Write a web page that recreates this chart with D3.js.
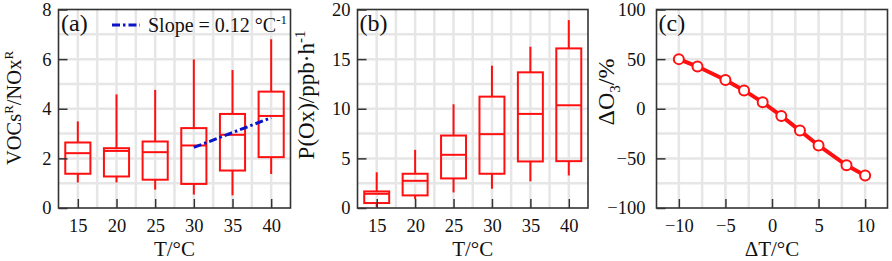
<!DOCTYPE html>
<html><head><meta charset="utf-8">
<script src="https://cdn.jsdelivr.net/npm/d3@7"></script>
<style>body{margin:0;background:#fff}svg{display:block}text{font-family:"Liberation Serif","Times New Roman",serif;fill:#111}</style>
</head><body>
<svg id="chart" width="892" height="261"></svg>
<script>
// ---- data ----
const temps = ["15","20","25","30","35","40"];
// panel (a) VOCs^R/NOx^R box stats
const aLow  = [1.03, 1.03, 0.74, 0.54, 0.51, 1.37];
const aQ1   = [1.38, 1.27, 1.14, 0.97, 1.51, 2.05];
const aMed  = [2.21, 2.30, 2.25, 2.52, 2.95, 3.71];
const aQ3   = [2.64, 2.41, 2.68, 3.22, 3.79, 4.69];
const aHigh = [3.49, 4.58, 4.76, 5.99, 5.56, 6.80];
const slopeX = ["30","40"];
const slopeY = [2.44, 3.64];
// panel (b) P(Ox) box stats
const bLow  = [0.10, 0.90, 1.57, 1.94, 2.68, 3.28];
const bQ1   = [0.50, 1.27, 2.98, 3.45, 4.69, 4.72];
const bMed  = [1.43, 2.74, 5.36, 7.44, 9.48, 10.35];
const bQ3   = [1.67, 3.45, 7.30, 11.22, 13.67, 16.08];
const bHigh = [3.60, 5.86, 10.45, 14.34, 16.25, 18.93];
// panel (c) ΔO3 vs ΔT
const dT  = [-10, -8, -5, -3, -1, 1, 3, 5, 8, 10];
const dO3 = [50, 42.5, 29, 18.5, 6.5, -7.2, -22, -37, -57, -67.2];
// ticks
const aTicks = [0,2,4,6,8];
const bTicks = [0,5,10,15,20];
const cYTicks = [-100,-50,0,50,100];
const cXTicks = [-10,-5,0,5,10];

const svg = d3.select("#chart");
const plotTop = 9.5, plotBottom = 208;
const red = "#ff1010", gridC = "#e6e6e6", axisC = "#333";
const fmt = d => d < 0 ? "\u2212" + Math.abs(d) : String(d);

function frame(g, x0, x1, xs, ys, xGrid, yGrid) {
  g.append("g").selectAll("line").data(xGrid).join("line")
    .attr("x1", d => xs(d)).attr("x2", d => xs(d)).attr("y1", plotTop).attr("y2", plotBottom)
    .attr("stroke", gridC).attr("stroke-width", 2.5);
  g.append("g").selectAll("line").data(yGrid).join("line")
    .attr("x1", x0).attr("x2", x1).attr("y1", d => ys(d)).attr("y2", d => ys(d))
    .attr("stroke", gridC).attr("stroke-width", 2.5);
}
function axes(g, x0, x1, xs, ys, xTickVals, yTickVals, yPad) {
  const xa = g.append("g").attr("transform", `translate(0,${plotBottom})`)
    .call(d3.axisBottom(xs).tickValues(xTickVals).tickSizeInner(-9).tickSizeOuter(0).tickPadding(11).tickFormat(fmt));
  const ya = g.append("g").attr("transform", `translate(${x0},0)`)
    .call(d3.axisLeft(ys).tickValues(yTickVals).tickSizeInner(-9).tickSizeOuter(0).tickPadding(yPad).tickFormat(fmt));
  [xa, ya].forEach(a => {
    a.select(".domain").remove();
    a.selectAll("line").attr("stroke", axisC).attr("stroke-width", 1.5);
    a.selectAll("text").attr("font-size", 18.5).attr("fill", "#111")
      .attr("font-family", '"Liberation Serif", serif');
  });
  g.append("rect").attr("x", x0).attr("y", plotTop).attr("width", x1 - x0).attr("height", plotBottom - plotTop)
    .attr("fill", "none").attr("stroke", axisC).attr("stroke-width", 1.6);
}
function boxes(g, xs, ys, low, q1, med, q3, high) {
  const bw = xs.bandwidth() * 0.65;
  temps.forEach((t, i) => {
    const cx = xs(t) + xs.bandwidth() / 2;
    const bg = g.append("g").attr("stroke", red).attr("stroke-width", 2).attr("fill", "none");
    bg.append("line").attr("x1", cx).attr("x2", cx).attr("y1", ys(low[i])).attr("y2", ys(q1[i]));
    bg.append("line").attr("x1", cx).attr("x2", cx).attr("y1", ys(q3[i])).attr("y2", ys(high[i]));
    bg.append("rect").attr("x", cx - bw/2).attr("width", bw).attr("y", ys(q3[i])).attr("height", ys(q1[i]) - ys(q3[i]));
    bg.append("line").attr("x1", cx - bw/2).attr("x2", cx + bw/2).attr("y1", ys(med[i])).attr("y2", ys(med[i]));
  });
}
function catAxisScale(x0, x1) {
  return d3.scaleBand().domain(temps).range([x0, x1]).padding(0);
}

// ---------- panel (a) ----------
{
  const x0 = 58.5, x1 = 290.5;
  const xb = catAxisScale(x0, x1);
  const xp = d3.scalePoint().domain(temps).range([x0, x1]).padding(0.5);
  const ys = d3.scaleLinear().domain([0, 8]).range([plotBottom, plotTop]);
  const g = svg.append("g");
  const gridX = d3.range(0, temps.length * 2 + 1).map(k => x0 + k * xb.bandwidth() / 2);
  frame(g, x0, x1, d3.scaleIdentity(), ys, gridX.slice(1, -1), d3.range(1, 8));
  boxes(g, xb, ys, aLow, aQ1, aMed, aQ3, aHigh);
  g.append("path").datum(slopeX.map((t, i) => [xp(t), ys(slopeY[i])]))
    .attr("d", d3.line()).attr("stroke", "#0a14c8").attr("stroke-width", 3)
    .attr("stroke-dasharray", "8,3,2.5,3").attr("fill", "none");
  axes(g, x0, x1, xp, ys, temps, aTicks, 7);
  g.append("text").attr("x", 61).attr("y", 31).attr("font-size", 24).text("(a)");
  g.append("line").attr("x1", 112).attr("x2", 140).attr("y1", 25).attr("y2", 25)
    .attr("stroke", "#0a14c8").attr("stroke-width", 3).attr("stroke-dasharray", "8,3,2.5,3");
  const lt = g.append("text").attr("x", 148).attr("y", 32).attr("font-size", 20);
  lt.append("tspan").text("Slope = 0.12 \u00B0C");
  lt.append("tspan").attr("dy", -8).attr("font-size", 13).text("-1");
  g.append("text").attr("x", (x0 + x1) / 2).attr("y", 256).attr("text-anchor", "middle").attr("font-size", 21).text("T/\u00B0C");
  const yl = g.append("text").attr("transform", "translate(21,108) rotate(-90)").attr("text-anchor", "middle").attr("font-size", 20.5);
  yl.append("tspan").text("VOCs");
  yl.append("tspan").attr("dy", -8).attr("font-size", 13).text("R");
  yl.append("tspan").attr("dy", 8).text("/NOx");
  yl.append("tspan").attr("dy", -8).attr("font-size", 13).text("R");
}

// ---------- panel (b) ----------
{
  const x0 = 357.5, x1 = 588;
  const xb = catAxisScale(x0, x1);
  const xp = d3.scalePoint().domain(temps).range([x0, x1]).padding(0.5);
  const ys = d3.scaleLinear().domain([0, 20]).range([plotBottom, plotTop]);
  const g = svg.append("g");
  const gridX = d3.range(0, temps.length * 2 + 1).map(k => x0 + k * xb.bandwidth() / 2);
  frame(g, x0, x1, d3.scaleIdentity(), ys, gridX.slice(1, -1), d3.range(2.5, 20, 2.5));
  boxes(g, xb, ys, bLow, bQ1, bMed, bQ3, bHigh);
  axes(g, x0, x1, xp, ys, temps, bTicks, 7);
  g.append("text").attr("x", 359.5).attr("y", 31).attr("font-size", 24).text("(b)");
  g.append("text").attr("x", (x0 + x1) / 2).attr("y", 256).attr("text-anchor", "middle").attr("font-size", 21).text("T/\u00B0C");
  const yl = g.append("text").attr("transform", "translate(314,95) rotate(-90)").attr("text-anchor", "middle").attr("font-size", 23);
  yl.append("tspan").text("P(Ox)/ppb\u00B7h");
  yl.append("tspan").attr("dy", -9).attr("font-size", 15).text("-1");
}

// ---------- panel (c) ----------
{
  const x0 = 656.5, x1 = 887.5;
  const xs = d3.scaleLinear().domain([-12.4, 12.4]).range([x0, x1]);
  const ys = d3.scaleLinear().domain([-100, 100]).range([plotBottom, plotTop]);
  const g = svg.append("g");
  frame(g, x0, x1, xs, ys, d3.range(-10, 12.5, 2.5), d3.range(-75, 100, 25));
  g.append("path").datum(dT.map((t, i) => [xs(t), ys(dO3[i])]))
    .attr("d", d3.line()).attr("stroke", red).attr("stroke-width", 4).attr("fill", "none");
  g.append("g").selectAll("circle").data(dT).join("circle")
    .attr("cx", d => xs(d)).attr("cy", (d, i) => ys(dO3[i])).attr("r", 5)
    .attr("fill", "#fff").attr("stroke", red).attr("stroke-width", 2);
  axes(g, x0, x1, xs, ys, cXTicks, cYTicks, 11);
  g.append("text").attr("x", 658.5).attr("y", 31).attr("font-size", 24).text("(c)");
  g.append("text").attr("x", (x0 + x1) / 2).attr("y", 256).attr("text-anchor", "middle").attr("font-size", 21).text("\u0394T/\u00B0C");
  const yl = g.append("text").attr("transform", "translate(614,92) rotate(-90)").attr("text-anchor", "middle").attr("font-size", 24);
  yl.append("tspan").text("\u0394O");
  yl.append("tspan").attr("dy", 6).attr("font-size", 15).text("3");
  yl.append("tspan").attr("dy", -6).text("/%");
}
</script>
</body></html>
